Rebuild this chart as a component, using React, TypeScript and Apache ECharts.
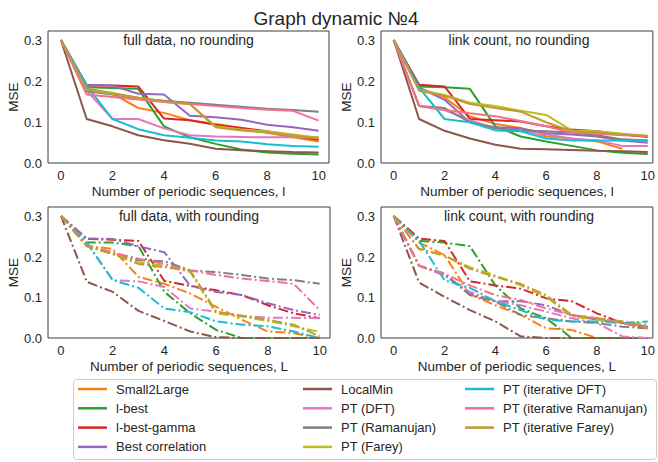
import React, { useEffect, useRef } from "react";
import * as echarts from "echarts";

const FONT = "'Liberation Sans', Arial, Helvetica, sans-serif";

const X_VALUES = [0, 1, 2, 3, 4, 5, 6, 7, 8, 9, 10];
const X_TICKS = [0, 2, 4, 6, 8, 10];
const Y_TICKS = [0, 0.1, 0.2, 0.3];

const SERIES_NAMES = [
  "Small2Large",
  "l-best",
  "l-best-gamma",
  "Best correlation",
  "LocalMin",
  "PT (DFT)",
  "PT (Ramanujan)",
  "PT (Farey)",
  "PT (iterative DFT)",
  "PT (iterative Ramanujan)",
  "PT (iterative Farey)",
];

const COLORS = [
  "#ff7f0e",
  "#2ca02c",
  "#d62728",
  "#9467bd",
  "#8c564b",
  "#e377c2",
  "#7f7f7f",
  "#bcbd22",
  "#17becf",
  "#f5718b",
  "#c19a35",
];

const PANEL_TITLES = [
  "full data, no rounding",
  "link count, no rounding",
  "full data, with rounding",
  "link count, with rounding",
];

const X_NAMES = [
  "Number of periodic sequences, l",
  "Number of periodic sequences, l",
  "Number of periodic sequences, L",
  "Number of periodic sequences, L",
];

// full data, no rounding
const fullNoRounding: (number | null)[][] = [
  [0.302, 0.182, 0.17, 0.135, 0.123, 0.105, 0.096, 0.086, 0.074, 0.063, 0.053],
  [0.302, 0.186, 0.184, 0.182, 0.09, 0.063, 0.047, 0.033, 0.026, 0.023, 0.021],
  [0.302, 0.19, 0.19, 0.188, 0.109, 0.105, 0.094, 0.086, 0.078, 0.067, 0.057],
  [0.302, 0.192, 0.19, 0.17, 0.168, 0.116, 0.112, 0.106, 0.094, 0.088, 0.079],
  [0.302, 0.108, 0.09, 0.068, 0.056, 0.047, 0.035, 0.031, 0.029, 0.027, 0.026],
  [0.302, 0.178, 0.108, 0.108, 0.085, 0.068, 0.065, 0.064, 0.063, 0.063, 0.063],
  [0.302, 0.176, 0.168, 0.158, 0.153, 0.148, 0.143, 0.138, 0.133, 0.13, 0.126],
  [0.302, 0.18, 0.17, 0.16, 0.15, 0.145, 0.09, 0.082, 0.078, 0.07, 0.062],
  [0.302, 0.19, 0.108, 0.083, 0.068, 0.062, 0.055, 0.053, 0.046, 0.042, 0.04],
  [0.302, 0.168, 0.162, 0.156, 0.15, 0.145, 0.14, 0.135, 0.131, 0.128, 0.104],
  [0.302, 0.182, 0.172, 0.16, 0.152, 0.145, 0.088, 0.08, 0.075, 0.067, 0.06],
];

// link count, no rounding
const linkNoRounding: (number | null)[][] = [
  [0.302, 0.184, 0.161, 0.114, 0.096, 0.086, 0.065, 0.06, 0.053, 0.035, null],
  [0.302, 0.188, 0.186, 0.182, 0.09, 0.065, 0.053, 0.042, 0.031, 0.025, 0.022],
  [0.302, 0.192, 0.188, 0.108, 0.105, 0.102, 0.09, 0.082, 0.078, 0.07, 0.064],
  [0.302, 0.185, 0.155, 0.1, 0.088, 0.085, 0.073, 0.07, 0.065, 0.055, 0.05],
  [0.302, 0.108, 0.079, 0.06, 0.045, 0.035, 0.034, 0.032, 0.03, 0.029, 0.027],
  [0.302, 0.14, 0.13, 0.105, 0.085, 0.08, 0.07, 0.06, 0.055, 0.042, 0.042],
  [0.302, 0.14, 0.135, 0.1, 0.085, 0.08, 0.078, 0.075, 0.068, 0.058, 0.055],
  [0.302, 0.18, 0.167, 0.148, 0.14, 0.128, 0.118, 0.08, 0.078, 0.072, 0.066],
  [0.302, 0.185, 0.108, 0.1, 0.08, 0.078, 0.06, 0.055, 0.055, 0.055, 0.056],
  [0.302, 0.14, 0.13, 0.122, 0.115, 0.103, 0.09, 0.075, 0.072, 0.068, 0.067],
  [0.302, 0.177, 0.165, 0.145, 0.135, 0.126, 0.1, 0.078, 0.075, 0.07, 0.066],
];

// full data, with rounding
const fullWithRounding: (number | null)[][] = [
  [0.302, 0.228, 0.22, 0.151, 0.134, 0.11, 0.077, 0.045, 0.016, 0.012, 0.0],
  [0.302, 0.236, 0.236, 0.227, 0.114, 0.061, 0.02, 0.0, 0.0, 0.0, 0.0],
  [0.302, 0.245, 0.243, 0.24, 0.141, 0.129, 0.118, 0.106, 0.081, 0.061, 0.049],
  [0.302, 0.246, 0.245, 0.227, 0.212, 0.129, 0.114, 0.106, 0.086, 0.069, 0.057],
  [0.302, 0.139, 0.114, 0.067, 0.042, 0.016, 0.002, 0.0, 0.0, 0.0, 0.0],
  [0.302, 0.236, 0.143, 0.14, 0.126, 0.073, 0.065, 0.055, 0.05, 0.05, 0.049],
  [0.302, 0.227, 0.208, 0.192, 0.19, 0.167, 0.163, 0.156, 0.147, 0.143, 0.134],
  [0.302, 0.228, 0.208, 0.187, 0.179, 0.163, 0.061, 0.053, 0.042, 0.029, 0.015],
  [0.302, 0.236, 0.143, 0.124, 0.073, 0.064, 0.041, 0.033, 0.029, 0.016, 0.0],
  [0.302, 0.228, 0.212, 0.196, 0.183, 0.167, 0.156, 0.147, 0.141, 0.134, 0.069],
  [0.302, 0.228, 0.208, 0.183, 0.175, 0.167, 0.065, 0.055, 0.045, 0.033, 0.004],
];

// link count, with rounding
const linkWithRounding: (number | null)[][] = [
  [0.302, 0.236, 0.205, 0.108, 0.081, 0.057, 0.024, 0.02, 0.0, 0.0, 0.0],
  [0.302, 0.24, 0.236, 0.227, 0.13, 0.073, 0.049, 0.0, 0.0, 0.0, 0.0],
  [0.302, 0.246, 0.24, 0.14, 0.13, 0.122, 0.098, 0.091, 0.061, 0.037, 0.024],
  [0.302, 0.179, 0.155, 0.11, 0.091, 0.091, 0.081, 0.057, 0.045, 0.037, 0.028],
  [0.302, 0.137, 0.102, 0.069, 0.041, 0.004, 0.0, 0.0, 0.0, 0.0, 0.0],
  [0.302, 0.179, 0.155, 0.114, 0.091, 0.081, 0.065, 0.049, 0.037, 0.004, 0.0],
  [0.302, 0.179, 0.159, 0.106, 0.09, 0.057, 0.049, 0.041, 0.037, 0.028, 0.024],
  [0.302, 0.22, 0.204, 0.175, 0.155, 0.13, 0.102, 0.053, 0.045, 0.041, 0.033],
  [0.302, 0.24, 0.143, 0.124, 0.091, 0.069, 0.045, 0.041, 0.041, 0.037, 0.041],
  [0.302, 0.179, 0.159, 0.13, 0.106, 0.094, 0.073, 0.057, 0.049, 0.037, 0.024],
  [0.302, 0.22, 0.204, 0.171, 0.151, 0.134, 0.106, 0.057, 0.049, 0.041, 0.028],
];

const PANELS = [fullNoRounding, linkNoRounding, fullWithRounding, linkWithRounding];

const GRIDS = [
  { left: 48, top: 31, width: 281, height: 132 },
  { left: 381, top: 31, width: 276, height: 132 },
  { left: 48, top: 207, width: 282, height: 131 },
  { left: 381, top: 207, width: 276, height: 131 },
];
const X_MAX = [10.4, 10.2, 10.4, 10.2];

export default function App() {
  const ref = useRef<HTMLDivElement>(null);
  useEffect(() => {
    if (!ref.current) return;
    const chart = echarts.init(ref.current, null, { renderer: "svg" });
    const textColor = "#262626";

    const series: any[] = [];
    PANELS.forEach((panel, p) => {
      panel.forEach((vals, i) => {
        series.push({
          type: "line",
          name: SERIES_NAMES[i],
          xAxisIndex: p,
          yAxisIndex: p,
          data: X_VALUES.map((x, k) => [x, vals[k]]),
          showSymbol: false,
          symbol: "none",
          connectNulls: false,
          color: COLORS[i],
          lineStyle: {
            width: 2,
            color: COLORS[i],
            type: p >= 2 ? [10, 3, 2, 3] : "solid",
          },
          emphasis: { disabled: true },
        });
      });
    });

    const legendCols = [
      { left: 78, names: SERIES_NAMES.slice(0, 4) },
      { left: 303, names: SERIES_NAMES.slice(4, 8) },
      { left: 465, names: SERIES_NAMES.slice(8, 11) },
    ];

    const graphics: any[] = [
      {
        type: "rect",
        shape: { x: 73.5, y: 379.5, width: 583, height: 80, r: 3 },
        style: { fill: "#fff", stroke: "#cccccc", lineWidth: 1 },
        z: -1,
      },
      {
        type: "text",
        x: 336,
        y: 18,
        style: {
          text: "Graph dynamic №4",
          font: `19px ${FONT}`,
          fill: textColor,
          align: "center",
          verticalAlign: "middle",
        },
      },
    ];
    PANEL_TITLES.forEach((t, p) => {
      const g = GRIDS[p];
      graphics.push({
        type: "text",
        x: g.left + g.width / 2,
        y: g.top + 9,
        style: {
          text: t,
          font: `14px ${FONT}`,
          fill: textColor,
          align: "center",
          verticalAlign: "middle",
        },
      });
    });

    chart.setOption({
      animation: false,
      backgroundColor: "#fff",
      textStyle: { fontFamily: FONT },
      grid: GRIDS.map((g) => ({
        ...g,
        show: true,
        borderColor: "#3f3f3f",
        borderWidth: 1,
        backgroundColor: "transparent",
        containLabel: false,
      })),
      xAxis: GRIDS.map((g, p) => ({
        type: "value",
        gridIndex: p,
        min: -0.5,
        max: X_MAX[p],
        name: X_NAMES[p],
        nameLocation: "middle",
        nameGap: 21,
        nameTextStyle: { fontSize: 13.5, color: textColor, fontFamily: FONT },
        axisLine: { show: false },
        axisTick: { show: false },
        splitLine: { show: false },
        axisLabel: {
          customValues: X_TICKS,
          fontSize: 13,
          color: textColor,
          margin: 6,
          fontFamily: FONT,
          formatter: (v: number) => String(v),
        },
      })),
      yAxis: GRIDS.map((g, p) => ({
        type: "value",
        gridIndex: p,
        min: 0,
        max: 0.324,
        name: "MSE",
        nameLocation: "middle",
        nameGap: 26,
        nameRotate: 90,
        nameTextStyle: { fontSize: 13.5, color: textColor, fontFamily: FONT },
        axisLine: { show: false },
        axisTick: { show: false },
        splitLine: { show: false },
        axisLabel: {
          customValues: Y_TICKS,
          fontSize: 13,
          color: textColor,
          margin: 6,
          fontFamily: FONT,
          formatter: (v: number) => v.toFixed(1),
        },
      })),
      legend: legendCols.map((c) => ({
        orient: "vertical",
        left: c.left,
        top: 381.5,
        padding: 0,
        data: c.names,
        icon: "rect",
        itemWidth: 29,
        itemHeight: 2.5,
        itemGap: 4.3,
        selectedMode: false,
        textStyle: {
          fontSize: 13,
          color: textColor,
          fontFamily: FONT,
          lineHeight: 15,
          padding: [0, 0, 0, 4],
        },
      })),
      graphic: graphics,
      series,
    });
    return () => chart.dispose();
  }, []);

  return (
    <div
      ref={ref}
      style={{ position: "absolute", left: 0, top: 0, width: 658, height: 462 }}
    />
  );
}
